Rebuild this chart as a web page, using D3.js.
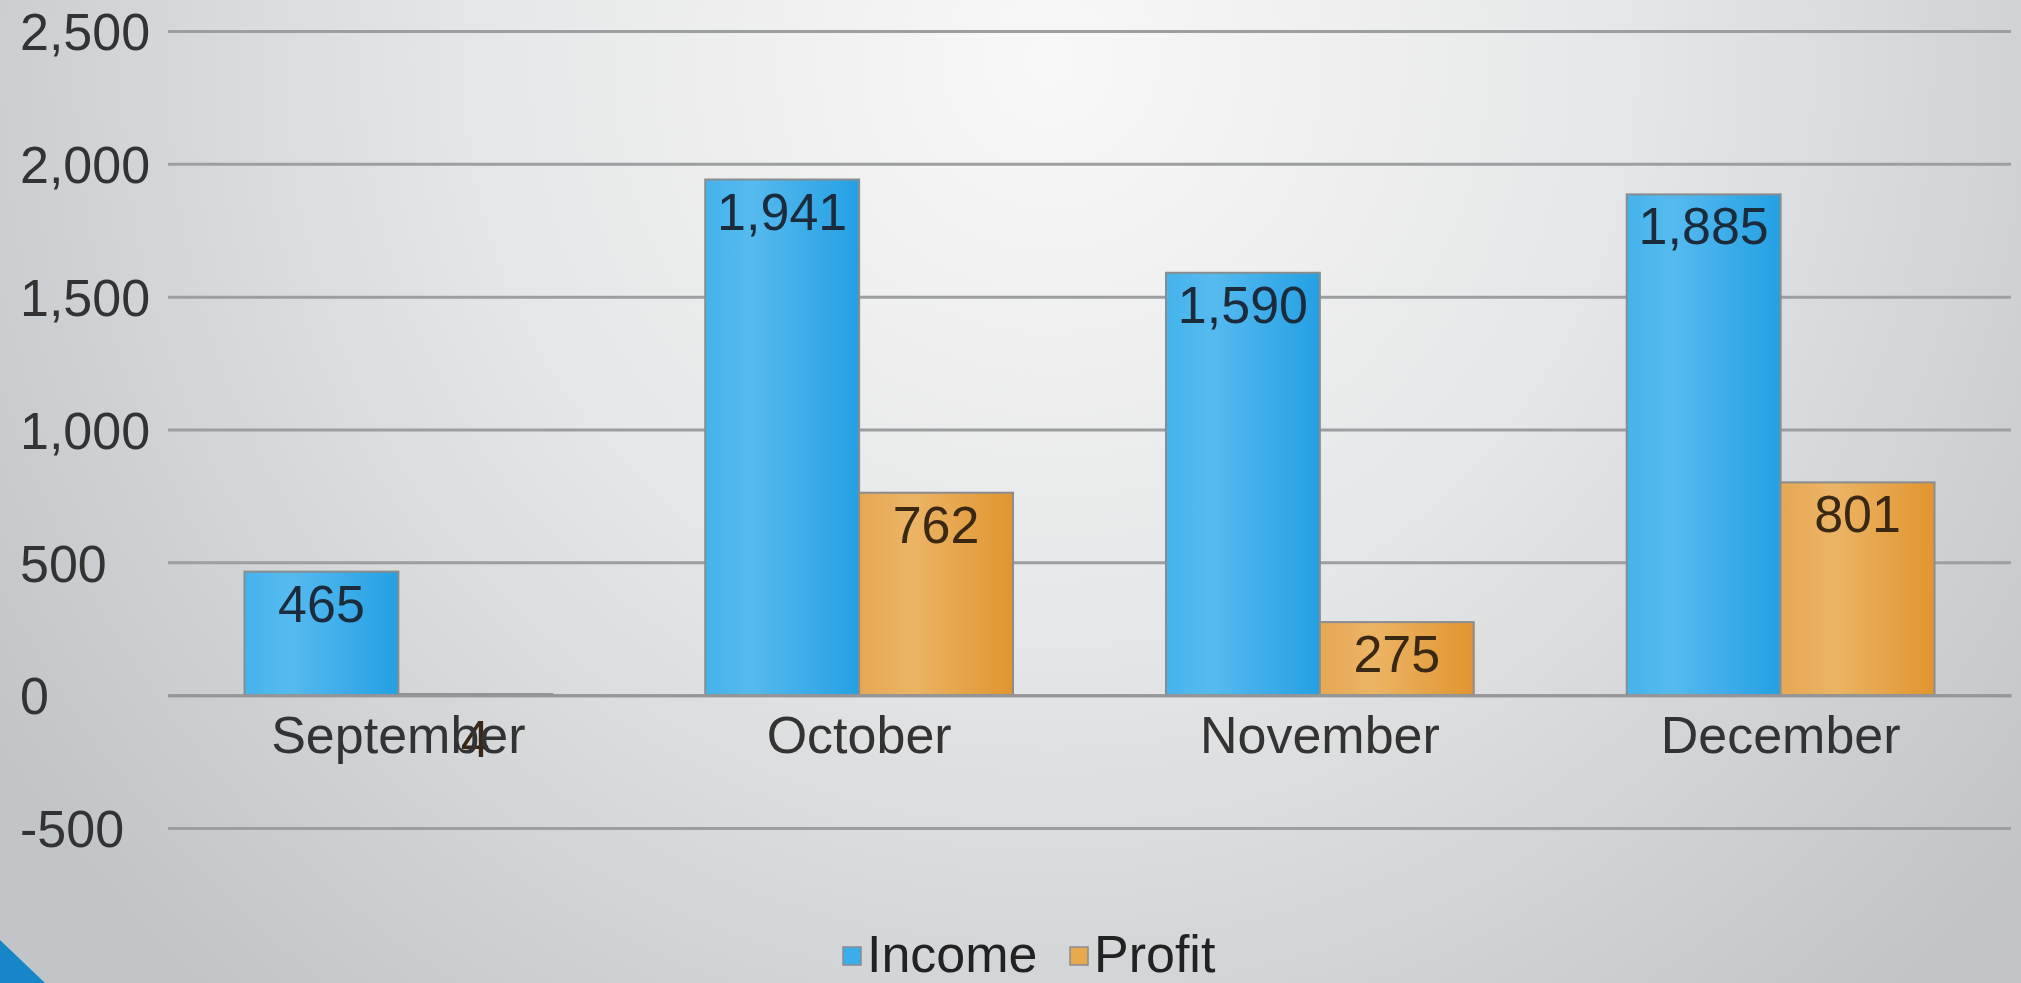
<!DOCTYPE html>
<html>
<head>
<meta charset="utf-8">
<script src="https://cdn.jsdelivr.net/npm/d3@7"></script>
<style>
  body { margin: 0; overflow: hidden; }
  svg { display: block; font-family: "Liberation Sans", Arial, sans-serif; }
</style>
</head>
<body>
<svg></svg>
<script>
const months = ['September', 'October', 'November', 'December'];
const seriesNames = ['Income', 'Profit'];
const income = [465, 1941, 1590, 1885];
const profit = [4, 762, 275, 801];
const yTicks = [-500, 0, 500, 1000, 1500, 2000, 2500];

const svgWidth = 2021;
const svgHeight = 983;
const plot = { left: 168, right: 2011, top: 31, bottom: 828 };

// excel style numbers, plain hyphen for negatives
const fmt = v => d3.format(',')(v).replace('\u2212', '-');

const svg = d3.select('svg')
    .attr('width', svgWidth)
    .attr('height', svgHeight);

const defs = svg.append('defs');

// slide background
const bg = defs.append('radialGradient')
    .attr('id', 'bg')
    .attr('gradientUnits', 'userSpaceOnUse')
    .attr('cx', 1050).attr('cy', 60).attr('r', 1250);
bg.append('stop').attr('offset', '0%').attr('stop-color', '#f8f8f8');
bg.append('stop').attr('offset', '45%').attr('stop-color', '#e6e7e8');
bg.append('stop').attr('offset', '100%').attr('stop-color', '#c1c5c8');

const blue = defs.append('linearGradient').attr('id', 'blue').attr('x1', 0).attr('x2', 1).attr('y1', 0).attr('y2', 0);
blue.append('stop').attr('offset', '0%').attr('stop-color', '#45b3ec');
blue.append('stop').attr('offset', '30%').attr('stop-color', '#56baef');
blue.append('stop').attr('offset', '100%').attr('stop-color', '#24a0e3');

const orange = defs.append('linearGradient').attr('id', 'orange').attr('x1', 0).attr('x2', 1).attr('y1', 0).attr('y2', 0);
orange.append('stop').attr('offset', '0%').attr('stop-color', '#e6a854');
orange.append('stop').attr('offset', '35%').attr('stop-color', '#ebb465');
orange.append('stop').attr('offset', '100%').attr('stop-color', '#e1952f');

svg.append('rect')
    .attr('width', svgWidth)
    .attr('height', svgHeight)
    .attr('fill', 'url(#bg)');

// blue corner of the slide
svg.append('path')
    .attr('d', 'M0,940 L45,983 L0,983 Z')
    .attr('fill', '#1686c9');

const x = d3.scaleBand()
    .domain(months)
    .range([plot.left, plot.right]);

const x1 = d3.scaleBand()
    .domain(seriesNames)
    .range([x.bandwidth() * 0.166, x.bandwidth() * 0.834]);

const y = d3.scaleLinear()
    .domain([-500, 2500])
    .range([plot.bottom, plot.top]);

// gridlines + tick labels
const yAxis = svg.append('g')
    .attr('transform', `translate(${plot.left},0)`)
    .call(d3.axisLeft(y).tickValues(yTicks).tickSize(-(plot.right - plot.left)).tickFormat(fmt));
yAxis.select('.domain').remove();
yAxis.selectAll('.tick line')
    .attr('stroke', '#9c9ea0')
    .attr('stroke-width', 3);
yAxis.selectAll('.tick text')
    .attr('x', 20 - plot.left)
    .attr('text-anchor', 'start')
    .attr('dy', '0.36em')
    .attr('font-size', 52)
    .attr('fill', '#333');

const data = months.map((m, i) => ({ month: m, values: [
    { key: 'Income', value: income[i] },
    { key: 'Profit', value: profit[i] }
] }));

const fills = { Income: 'url(#blue)', Profit: 'url(#orange)' };
const labelColors = { Income: '#1b2b3c', Profit: '#3a2814' };

const groups = svg.selectAll('g.group')
    .data(data)
    .enter()
    .append('g')
    .attr('class', 'group')
    .attr('transform', d => `translate(${x(d.month)},0)`);

groups.selectAll('rect')
    .data(d => d.values)
    .enter()
    .append('rect')
    .attr('x', d => x1(d.key))
    .attr('y', d => y(d.value))
    .attr('width', x1.bandwidth())
    .attr('height', d => y(0) - y(d.value))
    .attr('fill', d => fills[d.key])
    .attr('stroke', '#8a8c8e')
    .attr('stroke-width', 2);

// category axis on the zero line
const xAxis = svg.append('g')
    .attr('transform', `translate(0,${y(0)})`)
    .call(d3.axisBottom(x).tickSize(0));
xAxis.select('.domain')
    .attr('stroke', '#949698')
    .attr('stroke-width', 3);
xAxis.selectAll('.tick text')
    .attr('y', 58)
    .attr('dy', 0)
    .attr('font-size', 52)
    .attr('fill', '#333');

// value labels inside the bar top; very short bars get theirs below the axis
groups.selectAll('text.val')
    .data(d => d.values)
    .enter()
    .append('text')
    .attr('class', 'val')
    .attr('x', d => x1(d.key) + x1.bandwidth() / 2)
    .attr('y', d => (y(0) - y(d.value) < 40) ? y(0) + 62 : y(d.value) + 50)
    .attr('text-anchor', 'middle')
    .attr('font-size', 52)
    .attr('fill', d => labelColors[d.key])
    .text(d => fmt(d.value));

// legend
const legendColors = ['#3aaeea', '#e8a94c'];
const legend = svg.append('g');
const legendX = [843, 1070];
seriesNames.forEach((name, i) => {
    legend.append('rect')
        .attr('x', legendX[i])
        .attr('y', 947)
        .attr('width', 18)
        .attr('height', 18)
        .attr('fill', legendColors[i])
        .attr('stroke', '#8a8c8e')
        .attr('stroke-width', 1.5);
    legend.append('text')
        .attr('x', legendX[i] + 24)
        .attr('y', 972)
        .attr('font-size', 52)
        .attr('fill', '#222')
        .text(name);
});
</script>
</body>
</html>
